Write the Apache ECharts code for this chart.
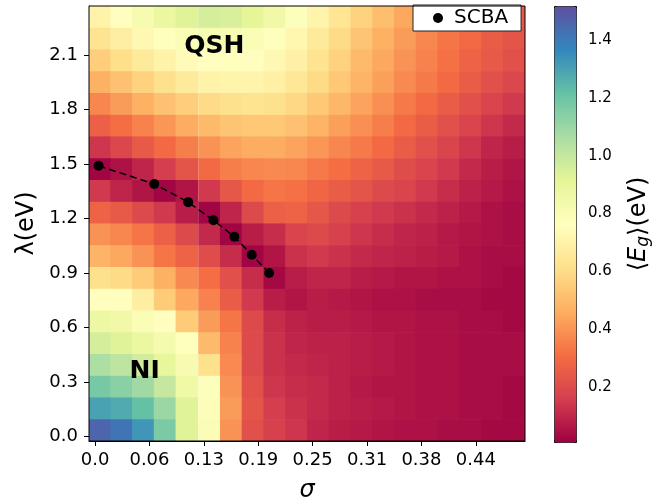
<!DOCTYPE html>
<html>
<head>
<meta charset="utf-8">
<script src="https://cdn.jsdelivr.net/npm/echarts@6/dist/echarts.min.js"></script>
<style>
  html, body { margin: 0; padding: 0; background: #fff; }
  #main { width: 664px; height: 499px; }
</style>
</head>
<body>
<div id="main"></div>
<script>
// ---- data ----
// centres of the heatmap cells (sigma left -> right, lambda top -> bottom)
var sigmaCells = [0.005, 0.030, 0.055, 0.080, 0.105, 0.131, 0.156, 0.181, 0.206, 0.231,
                  0.256, 0.281, 0.306, 0.331, 0.356, 0.381, 0.406, 0.431, 0.456, 0.481]
var lambdaCells = [2.310, 2.190, 2.071, 1.951, 1.831, 1.711, 1.592, 1.472, 1.352, 1.232,
                   1.113, 0.993, 0.873, 0.753, 0.634, 0.514, 0.394, 0.274, 0.155, 0.035]

// <E_g> in eV, one row per lambdaCells entry
var gapRows = [
  [0.70,0.76,0.82,0.88,0.93,0.96,0.95,0.91,0.85,0.78,0.71,0.64,0.57,0.51,0.45,0.40,0.35,0.31,0.28,0.25],
  [0.63,0.68,0.73,0.77,0.80,0.82,0.82,0.80,0.77,0.72,0.66,0.60,0.53,0.47,0.42,0.37,0.33,0.30,0.26,0.23],
  [0.56,0.61,0.66,0.70,0.74,0.76,0.77,0.76,0.73,0.69,0.63,0.57,0.50,0.45,0.40,0.36,0.32,0.28,0.25,0.22],
  [0.47,0.52,0.57,0.62,0.66,0.70,0.71,0.71,0.69,0.65,0.60,0.54,0.48,0.43,0.38,0.34,0.30,0.26,0.22,0.19],
  [0.37,0.42,0.47,0.52,0.56,0.60,0.62,0.63,0.62,0.59,0.54,0.49,0.44,0.39,0.34,0.30,0.26,0.22,0.18,0.15],
  [0.27,0.31,0.36,0.41,0.46,0.50,0.53,0.54,0.54,0.52,0.48,0.43,0.39,0.35,0.30,0.26,0.22,0.18,0.14,0.11],
  [0.14,0.19,0.25,0.30,0.35,0.40,0.44,0.46,0.46,0.44,0.41,0.37,0.34,0.30,0.26,0.22,0.18,0.14,0.10,0.08],
  [0.02,0.05,0.10,0.16,0.23,0.30,0.35,0.37,0.38,0.37,0.34,0.31,0.28,0.25,0.21,0.18,0.15,0.11,0.08,0.06],
  [0.15,0.10,0.06,0.02,0.06,0.15,0.24,0.30,0.33,0.32,0.29,0.26,0.23,0.20,0.18,0.15,0.12,0.09,0.07,0.05],
  [0.28,0.25,0.20,0.15,0.08,0.02,0.10,0.20,0.27,0.28,0.24,0.20,0.17,0.15,0.13,0.11,0.09,0.07,0.05,0.04],
  [0.40,0.37,0.33,0.27,0.20,0.11,0.02,0.08,0.12,0.18,0.20,0.17,0.14,0.12,0.10,0.09,0.07,0.06,0.05,0.04],
  [0.48,0.45,0.40,0.33,0.28,0.21,0.12,0.02,0.06,0.13,0.15,0.13,0.11,0.10,0.09,0.08,0.07,0.05,0.04,0.04],
  [0.62,0.60,0.55,0.47,0.38,0.31,0.22,0.12,0.03,0.08,0.10,0.10,0.08,0.07,0.06,0.06,0.05,0.05,0.04,0.03],
  [0.76,0.76,0.68,0.55,0.45,0.36,0.26,0.15,0.08,0.06,0.08,0.07,0.06,0.05,0.05,0.04,0.04,0.04,0.03,0.03],
  [0.87,0.85,0.80,0.76,0.55,0.42,0.33,0.20,0.12,0.09,0.08,0.08,0.07,0.06,0.06,0.05,0.05,0.04,0.04,0.03],
  [0.96,0.93,0.88,0.83,0.77,0.50,0.36,0.20,0.13,0.10,0.09,0.09,0.08,0.07,0.06,0.05,0.05,0.04,0.04,0.04],
  [1.06,1.02,0.97,0.90,0.82,0.62,0.38,0.20,0.13,0.11,0.10,0.09,0.08,0.07,0.06,0.05,0.05,0.04,0.04,0.04],
  [1.18,1.14,1.09,1.00,0.86,0.78,0.40,0.22,0.14,0.12,0.11,0.09,0.07,0.06,0.06,0.05,0.05,0.04,0.04,0.03],
  [1.30,1.28,1.22,1.10,0.93,0.79,0.42,0.23,0.16,0.13,0.11,0.09,0.08,0.07,0.06,0.05,0.05,0.04,0.04,0.03],
  [1.46,1.42,1.33,1.17,0.93,0.80,0.40,0.22,0.17,0.14,0.10,0.08,0.07,0.06,0.05,0.05,0.04,0.04,0.03,0.03]
]

// SCBA phase boundary
var scbaSigma = [0.004, 0.068, 0.107, 0.136, 0.160, 0.180, 0.200]
var scbaLambda = [1.49, 1.39, 1.29, 1.19, 1.10, 1.00, 0.90]

// phase names
var phaseNames = ['QSH', 'NI']
var phaseSigma = [0.137, 0.057]
var phaseLambda = [2.149, 0.355]

// ticks
var xTickValues = [0, 0.0625, 0.125, 0.1875, 0.25, 0.3125, 0.375, 0.4375]
var xTickLabels = ['0.0', '0.06', '0.13', '0.19', '0.25', '0.31', '0.38', '0.44']
var yTickValues = [0, 0.3, 0.6, 0.9, 1.2, 1.5, 1.8, 2.1]
var yTickLabels = ['0.0', '0.3', '0.6', '0.9', '1.2', '1.5', '1.8', '2.1']
var cbarTickValues = [0.2, 0.4, 0.6, 0.8, 1.0, 1.2, 1.4]
var cbarTickLabels = ['0.2', '0.4', '0.6', '0.8', '1.0', '1.2', '1.4']

// ---- chart ----
var FONT = 'DejaVu Sans'
var cellW = 0.02505   // cell size in data units
var cellH = 0.11975
var spectral = ['#9e0142','#d53e4f','#f46d43','#fdae61','#fee08b','#ffffbf',
                '#e6f598','#abdda4','#66c2a5','#3288bd','#5e4fa2']

var cells = []
gapRows.forEach(function (row, j) {
  row.forEach(function (v, i) {
    cells.push([sigmaCells[i], lambdaCells[j], v])
  })
})
var scba = scbaSigma.map(function (s, i) { return [s, scbaLambda[i]] })
var phases = phaseNames.map(function (n, i) { return [phaseSigma[i], phaseLambda[i], n] })

function tickLabel(values, labels) {
  return function (v) {
    for (var k = 0; k < values.length; k++) {
      if (Math.abs(values[k] - v) < 1e-6) return labels[k]
    }
    return ''
  }
}

var chart = echarts.init(document.getElementById('main'), null, { renderer: 'canvas' })
chart.setOption({
  animation: false,
  textStyle: { fontFamily: FONT },
  grid: [
    { left: 89, top: 6, width: 436, height: 435, show: true, z: 5, outerBoundsMode: 'none',
      backgroundColor: 'transparent', borderColor: '#000', borderWidth: 1 },
    { left: 554, top: 6, width: 22, height: 436, outerBoundsMode: 'none' }
  ],
  xAxis: [
    {
      type: 'value', gridIndex: 0, min: -0.007, max: 0.494,
      name: 'σ', nameLocation: 'middle', nameGap: 38,
      nameTextStyle: { fontSize: 24, fontStyle: 'italic', color: '#000', fontFamily: FONT },
      axisLine: { show: true, onZero: false, lineStyle: { color: '#000', width: 1 } },
      axisTick: { show: true, length: 5, customValues: xTickValues, lineStyle: { color: '#000' } },
      axisLabel: { show: true, customValues: xTickValues, margin: 10, fontSize: 18, color: '#000',
                   formatter: tickLabel(xTickValues, xTickLabels) },
      splitLine: { show: false }
    },
    { type: 'value', gridIndex: 1, min: 0, max: 1, show: false }
  ],
  yAxis: [
    {
      type: 'value', gridIndex: 0, min: -0.025, max: 2.37,
      name: 'λ(eV)', nameLocation: 'middle', nameGap: 50,
      nameTextStyle: { fontSize: 24, color: '#000', fontFamily: FONT },
      axisLine: { show: true, onZero: false, lineStyle: { color: '#000', width: 1 } },
      axisTick: { show: true, length: 5, customValues: yTickValues, lineStyle: { color: '#000' } },
      axisLabel: { show: true, customValues: yTickValues, margin: 11, fontSize: 18, color: '#000',
                   formatter: tickLabel(yTickValues, yTickLabels) },
      splitLine: { show: false }
    },
    {
      type: 'value', gridIndex: 1, position: 'right', min: 0.01, max: 1.518,
      name: '{n|⟨}{i|E}{s|g}{n|⟩(eV)}', nameLocation: 'middle', nameGap: 49,
      nameTextStyle: {
        color: '#000',
        rich: {
          n: { fontSize: 24, fontFamily: FONT, color: '#000' },
          i: { fontSize: 24, fontFamily: FONT, fontStyle: 'italic', color: '#000' },
          s: { fontSize: 17, fontFamily: FONT, fontStyle: 'italic', color: '#000', padding: [10, 0, 0, 0] }
        }
      },
      axisLine: { show: false },
      axisTick: { show: true, length: 5, customValues: cbarTickValues, lineStyle: { color: '#000' } },
      axisLabel: { show: true, customValues: cbarTickValues, margin: 12, fontSize: 15, color: '#000',
                   formatter: tickLabel(cbarTickValues, cbarTickLabels) },
      splitLine: { show: false }
    }
  ],
  visualMap: {
    type: 'continuous', min: 0.01, max: 1.518, dimension: 2, seriesIndex: 0,
    calculable: false, hoverLink: false, left: 554, top: 6,
    itemWidth: 22, itemHeight: 436, padding: 0,
    borderColor: '#000', borderWidth: 1,
    inRange: { color: spectral }
  },
  legend: {
    data: ['SCBA'], left: 413, top: 5, icon: 'circle',
    itemWidth: 22, itemHeight: 10,
    backgroundColor: '#fff', borderColor: '#222', borderWidth: 1, borderRadius: 0,
    padding: [3, 13, 3, 20],
    textStyle: { fontSize: 20, color: '#000', fontFamily: FONT }
  },
  series: [
    {
      name: 'gap', type: 'custom', xAxisIndex: 0, yAxisIndex: 0, clip: true, z: 1,
      renderItem: function (params, api) {
        var c = api.coord([api.value(0), api.value(1)])
        var s = api.size([cellW, cellH])
        return {
          type: 'rect',
          shape: { x: c[0] - s[0] / 2, y: c[1] - s[1] / 2, width: s[0] + 0.7, height: s[1] + 0.7 },
          style: { fill: api.visual('color') }
        }
      },
      encode: { x: 0, y: 1 },
      data: cells,
      silent: true
    },
    {
      name: 'SCBA', type: 'line', xAxisIndex: 0, yAxisIndex: 0, z: 3,
      data: scba, symbol: 'circle', symbolSize: 10, showAllSymbol: true,
      itemStyle: { color: '#000' },
      lineStyle: { color: '#000', width: 1.5, type: [7, 4] }
    },
    {
      name: 'phase', type: 'scatter', xAxisIndex: 0, yAxisIndex: 0, z: 4,
      data: phases, symbolSize: 0, silent: true,
      itemStyle: { opacity: 1 },
      label: {
        show: true, position: 'inside', opacity: 1,
        formatter: function (p) { return p.data[2] },
        fontSize: 25, fontWeight: 'bold', color: '#000', fontFamily: FONT
      }
    }
  ]
})
</script>
</body>
</html>
